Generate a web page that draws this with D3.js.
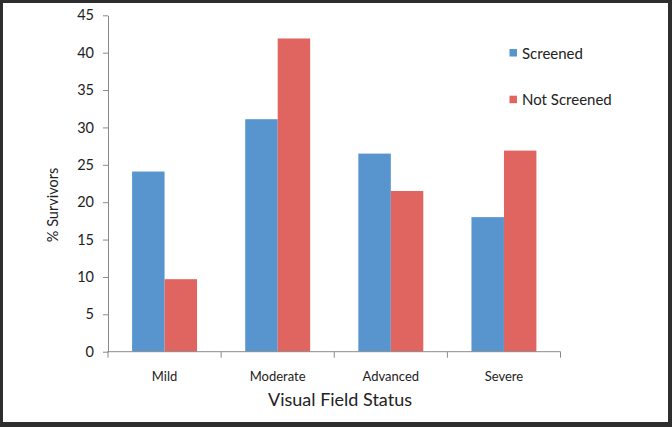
<!DOCTYPE html>
<html><head><meta charset="utf-8">
<script src="https://cdn.jsdelivr.net/npm/d3@7"></script>
<style>
html,body{margin:0;padding:0;background:#fff;}
svg{display:block;}
text{font-family:Lato,"Open Sans",sans-serif;fill:#222;}
</style></head>
<body>
<script>
const categories = ["Mild","Moderate","Advanced","Severe"];
const seriesNames = ["Screened","Not Screened"];
const screened = [24.1, 31.1, 26.5, 18.0];
const notScreened = [9.7, 41.9, 21.5, 26.9];
const yTicks = [0,5,10,15,20,25,30,35,40,45];
const colors = ["#5894CE","#E0645F"];

(function(){
const W = 672, H = 427;
const svg = d3.select("body").append("svg").attr("width",W).attr("height",H);

// frame
svg.append("rect").attr("x",0).attr("y",0).attr("width",W).attr("height",H).attr("fill","#2e2e2e");
svg.append("rect").attr("x",3).attr("y",3).attr("width",W-7).attr("height",H-8).attr("fill","#fff");

const pLeft = 108, pRight = 560.5, pTop = 15.3, pBottom = 351.7;

const x = d3.scaleBand().domain(categories).range([pLeft,pRight]).paddingInner(0.426).paddingOuter(0.213);
const xs = d3.scaleBand().domain(seriesNames).range([0,x.bandwidth()]);
const y = d3.scaleLinear().domain([0,45]).range([pBottom,pTop]);

const data = categories.map((c,i)=>({cat:c, vals:[screened[i], notScreened[i]]}));

const g = svg.append("g");
g.selectAll("g.cat").data(data).join("g").attr("class","cat")
  .attr("transform",d=>`translate(${x(d.cat)},0)`)
  .selectAll("rect").data(d=>d.vals.map((v,j)=>({name:seriesNames[j],v,j})))
  .join("rect")
  .attr("x",d=>xs(d.name)).attr("width",xs.bandwidth())
  .attr("y",d=>y(d.v)).attr("height",d=>y(0)-y(d.v))
  .attr("fill",d=>colors[d.j]);

// y axis
const yAxis = d3.axisLeft(y).tickValues(yTicks).tickSize(5).tickPadding(9).tickSizeOuter(0);
const ya = svg.append("g").attr("transform",`translate(${pLeft},0)`).call(yAxis);
ya.select(".domain").attr("stroke","#8a8a8a").attr("stroke-width",1);
ya.selectAll(".tick line").attr("stroke","#8a8a8a");
ya.selectAll(".tick text").style("font-size","14.5px").style("font-family","Lato,sans-serif").attr("fill","#222");

// x axis
const xa = svg.append("g").attr("transform",`translate(0,${pBottom})`);
xa.append("line").attr("x1",pLeft-0.5).attr("x2",pRight).attr("y1",0).attr("y2",0).attr("stroke","#8a8a8a");
const edges = categories.map(c=>x(c)-x.step()*x.paddingInner()/2).concat([pRight]);
xa.selectAll("line.tk").data(edges).join("line").attr("class","tk")
  .attr("x1",d=>d).attr("x2",d=>d).attr("y1",0).attr("y2",6).attr("stroke","#8a8a8a");
xa.selectAll("text.lab").data(categories).join("text").attr("class","lab")
  .attr("x",d=>x(d)+x.bandwidth()/2).attr("y",29).attr("text-anchor","middle")
  .style("font-size","13px").text(d=>d);

// axis titles
svg.append("text").attr("x",340).attr("y",406).attr("text-anchor","middle")
  .style("font-size","18px").text("Visual Field Status");
svg.append("text").attr("transform","translate(58,205) rotate(-90)").attr("text-anchor","middle")
  .style("font-size","14.5px").text("% Survivors");

// legend
const leg = svg.append("g");
const legY = [49, 95.7];
seriesNames.forEach((n,i)=>{
  leg.append("rect").attr("x",509.5).attr("y",legY[i]).attr("width",7.5).attr("height",7.5).attr("fill",colors[i]);
  leg.append("text").attr("x",522).attr("y",legY[i]+9.5).style("font-size","15px").text(n);
});
})();
</script>
</body></html>
